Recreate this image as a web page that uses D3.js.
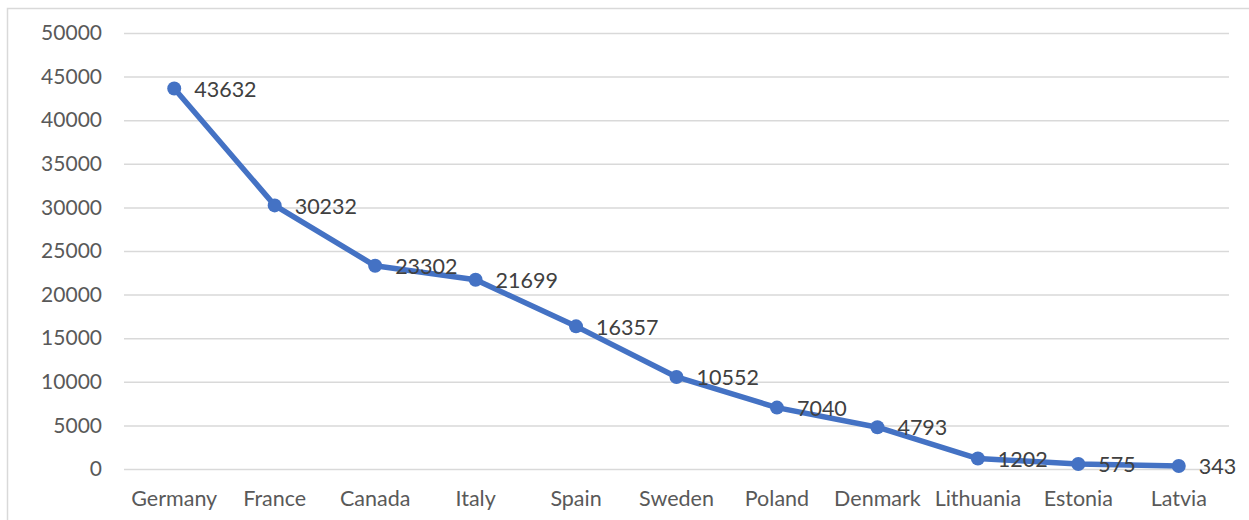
<!DOCTYPE html>
<html>
<head>
<meta charset="utf-8">
<script src="https://cdn.jsdelivr.net/npm/d3@7"></script>
<style>
  body { margin: 0; background: #fff; }
  text { font-family: Lato, "Open Sans", sans-serif; }
</style>
</head>
<body>
<div id="chart"></div>
<script>
// data
const countries = ["Germany", "France", "Canada", "Italy", "Spain", "Sweden", "Poland", "Denmark", "Lithuania", "Estonia", "Latvia"];
const values = [43632, 30232, 23302, 21699, 16357, 10552, 7040, 4793, 1202, 575, 343];
const yTicks = [0, 5000, 10000, 15000, 20000, 25000, 30000, 35000, 40000, 45000, 50000];

const width = 1249;
const height = 520;
const plot = { left: 124, right: 1229, top: 33, bottom: 469 };

const svg = d3.select("#chart").append("svg")
    .attr("width", width)
    .attr("height", height);

// chart border (right and bottom run off the picture)
svg.append("rect")
    .attr("x", 7.5).attr("y", 8.5)
    .attr("width", width + 10).attr("height", height + 10)
    .attr("fill", "none")
    .attr("stroke", "#d9d9d9")
    .attr("stroke-width", 1.5);

const x = d3.scaleBand()
    .domain(countries)
    .range([plot.left, plot.right]);

const y = d3.scaleLinear()
    .domain([0, 50000])
    .range([plot.bottom, plot.top]);

// gridlines + y labels
const yAxis = svg.append("g")
    .attr("transform", `translate(${plot.left},0)`)
    .call(d3.axisLeft(y).tickValues(yTicks).tickSize(-(plot.right - plot.left)).tickPadding(22).tickFormat(d3.format("d")));
yAxis.select(".domain").remove();
yAxis.selectAll("line").attr("stroke", "#d9d9d9").attr("stroke-width", 1.5);
yAxis.selectAll("text").attr("fill", "#595959").attr("font-size", 21);

// category labels
const xAxis = svg.append("g")
    .attr("transform", `translate(0,${plot.bottom})`)
    .call(d3.axisBottom(x).tickSize(0).tickPadding(22));
xAxis.select(".domain").remove();
xAxis.selectAll("text").attr("fill", "#595959").attr("font-size", 21.5);

const cx = d => x(d) + x.bandwidth() / 2;

const line = d3.line()
    .x((d, i) => cx(countries[i]))
    .y(d => y(d));

svg.append("path")
    .datum(values)
    .attr("fill", "none")
    .attr("stroke", "#4472c4")
    .attr("stroke-width", 5.5)
    .attr("stroke-linejoin", "round")
    .attr("d", line);

svg.append("g")
    .selectAll("circle")
    .data(values)
    .join("circle")
    .attr("cx", (d, i) => cx(countries[i]))
    .attr("cy", d => y(d))
    .attr("r", 7)
    .attr("fill", "#4472c4");

svg.append("g")
    .selectAll("text")
    .data(values)
    .join("text")
    .attr("x", (d, i) => cx(countries[i]) + 20)
    .attr("y", d => y(d))
    .attr("dy", "0.38em")
    .attr("fill", "#404040")
    .attr("font-size", 21.5)
    .text(d => d);
</script>
</body>
</html>
